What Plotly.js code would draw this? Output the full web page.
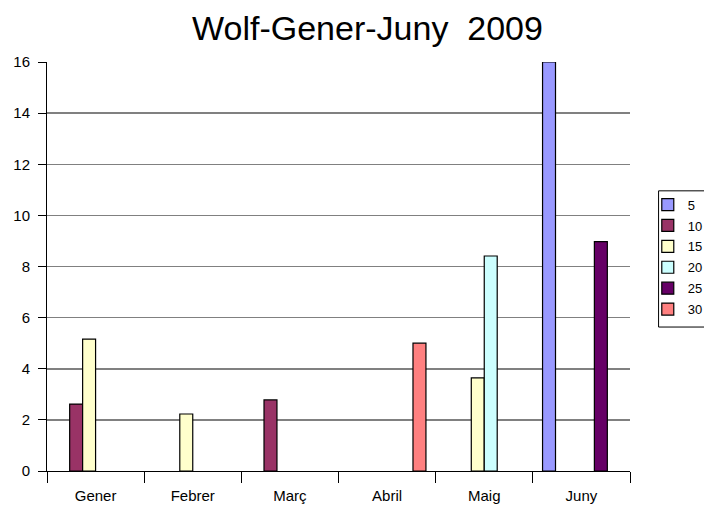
<!DOCTYPE html>
<html>
<head>
<meta charset="utf-8">
<script src="https://cdn.plot.ly/plotly-3.0.1.min.js"></script>
<style>
html,body{margin:0;padding:0;background:#fff;}
#chart{width:704px;height:507px;}
</style>
</head>
<body>
<div id="chart"></div>
<script>
// Data
const categories = ["Gener", "Febrer", "Març", "Abril", "Maig", "Juny"];
const seriesNames = ["5", "10", "15", "20", "25", "30"];
const s5  = [null, null, null, null, null, 16];
const s10 = [2.62, null, 2.78, null, null, null];
const s15 = [5.16, 2.23, null, null, 3.64, null];
const s20 = [null, null, null, null, 8.41, null];
const s25 = [null, null, null, null, null, 8.97];
const s30 = [null, null, null, 5.0, null, null];
const yTicks = [0, 2, 4, 6, 8, 10, 12, 14, 16];

const seriesValues = [s5, s10, s15, s20, s25, s30];
const colors = ["#9999FF", "#993366", "#FFFFCC", "#CCFFFF", "#660066", "#FF8080"];

const traces = seriesValues.map((vals, i) => ({
  type: "bar",
  name: seriesNames[i],
  legendgroup: "g" + i,
  x: categories,
  y: vals,
  marker: {color: colors[i], line: {color: "#000000", width: 1.2}},
  hoverinfo: "none"
}));

const layout = {
  width: 704,
  height: 507,
  paper_bgcolor: "#ffffff",
  plot_bgcolor: "#ffffff",
  font: {family: "Liberation Sans, Arial, sans-serif", color: "#000000", size: 14},
  title: {
    text: "Wolf-Gener-Juny  2009",
    font: {family: "Liberation Sans, Arial, sans-serif", size: 34, color: "#000000"},
    x: 0.522, xref: "container", xanchor: "center",
    y: 0.945, yref: "container", yanchor: "middle"
  },
  margin: {l: 47, r: 74, t: 62, b: 36, autoexpand: false},
  barmode: "group",
  bargap: 0.2,
  bargroupgap: 0,
  xaxis: {
    type: "category",
    tickson: "boundaries",
    ticks: "outside",
    ticklen: 11,
    tickcolor: "#000000",
    tickwidth: 1,
    showline: true,
    linecolor: "#000000",
    linewidth: 1,
    showgrid: false,
    tickfont: {size: 15, color: "#000000"},
    ticklabelstandoff: 11,
    fixedrange: true
  },
  yaxis: {
    range: [0, 16],
    tickvals: yTicks,
    ticktext: yTicks.map(String),
    ticks: "outside",
    ticklen: 8,
    tickcolor: "#000000",
    tickwidth: 1,
    showline: true,
    linecolor: "#000000",
    linewidth: 1,
    showgrid: true,
    gridcolor: "#808080",
    gridwidth: 1.5,
    zeroline: false,
    tickfont: {size: 15, color: "#000000"},
    ticklabelstandoff: 5,
    fixedrange: true
  },
  shapes: [{
    type: "rect", xref: "paper", yref: "paper",
    x0: 1.049, x1: 1.25, y0: 0.352, y1: 0.685,
    line: {color: "#000000", width: 1},
    fillcolor: "rgba(0,0,0,0)",
    layer: "above"
  }],
  showlegend: true,
  legend: {
    x: 1.0305, xanchor: "left",
    y: 0.688, yanchor: "top",
    borderwidth: 0,
    bgcolor: "rgba(0,0,0,0)",
    font: {size: 13, color: "#000000"},
    traceorder: "grouped",
    tracegroupgap: 1,
    itemwidth: 30
  }
};

Plotly.newPlot("chart", traces, layout, {displayModeBar: false, staticPlot: true});
</script>
</body>
</html>
